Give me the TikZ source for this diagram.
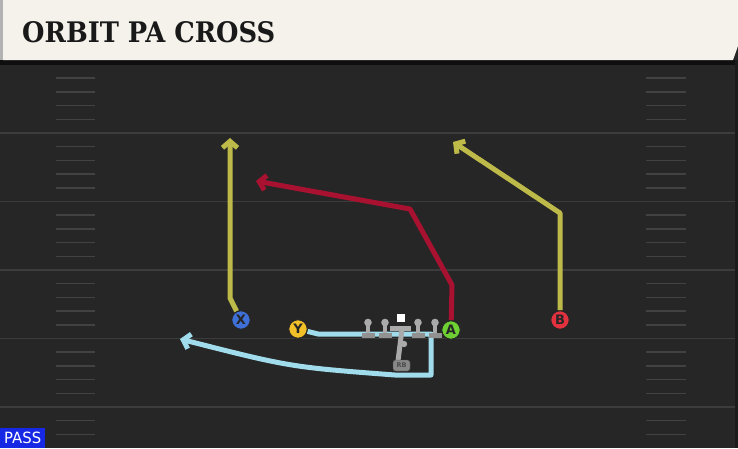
\documentclass[tikz,border=0pt]{standalone}
\usepackage{fontspec}
\setmainfont{DejaVu Sans}
\newfontfamily\titlefont{DejaVu Serif}
\usetikzlibrary{arrows.meta}
\definecolor{fieldbg}{RGB}{38,38,38}
\definecolor{yardln}{RGB}{60,60,60}
\definecolor{hashln}{RGB}{66,66,66}
\definecolor{cream}{RGB}{245,242,235}
\definecolor{olive}{RGB}{190,186,74}
\definecolor{crimson}{RGB}{168,18,48}
\definecolor{lblue}{RGB}{160,220,235}
\definecolor{pgrey}{RGB}{170,170,170}
\definecolor{passblue}{RGB}{22,40,228}
\definecolor{xblue}{RGB}{62,112,216}
\definecolor{yyellow}{RGB}{242,192,40}
\definecolor{agreen}{RGB}{110,208,50}
\definecolor{bred}{RGB}{226,50,64}
\tikzset{
  player/.style={circle, draw=black!85, line width=1pt, minimum size=18.5pt, inner sep=0pt,
    font=\fontsize{13}{13}\selectfont\bfseries, text=black!85},
  route/.style={line width=5pt, line join=round, -{Straight Barb[length=6.5pt,width=15pt]}},
}
\begin{document}
\begin{tikzpicture}[x=1pt,y=-1pt]
\useasboundingbox (0,0) rectangle (738,448);
% field
\fill[fieldbg] (0,0) rectangle (738,448);
\fill[black!60!fieldbg] (0,60) rectangle (738,65);
\fill[black!30!fieldbg] (735,60) rectangle (738,448);
% yard lines
\foreach \yy in {133,201.5,270,338.5,407}
  \draw[yardln, line width=1.8pt] (0,\yy) -- (735,\yy);
% hashes
\foreach \i in {0,...,5}{
  \foreach \k in {1,...,4}{
    \pgfmathsetmacro{\hy}{64.5+68.5*\i+13.7*\k}
    \ifdim\hy pt<446pt
      \draw[hashln, line width=1.5pt] (56,\hy) -- (95,\hy);
      \draw[hashln, line width=1.5pt] (646,\hy) -- (686,\hy);
    \fi
  }
}
% header
\fill[gray!60] (0,0) rectangle (3,60);
\fill[cream] (3,0) -- (738,0) -- (738,46) -- (733,60) -- (3,60) -- cycle;
\node[anchor=west, inner sep=0pt, text=black!90] (title) at (22,32.5)
  {\resizebox{253pt}{21pt}{\titlefont\bfseries ORBIT PA CROSS}};
% PASS label
\node[fill=passblue, anchor=south west, minimum width=45pt, minimum height=20pt, inner sep=0pt,
  text=white] (pass) at (0,448) {\resizebox{37pt}{11.5pt}{PASS}};
% players
\node[player, fill=xblue] (X) at (241,320) {X};
\node[player, fill=yyellow] (Y) at (298,329) {Y};
\node[player, fill=agreen] (A) at (451,330) {A};
\node[player, fill=bred] (B) at (560,320) {B};
% route coordinates
\coordinate (xb) at (230,298);
\coordinate (xe) at (230,138);
\coordinate (a1) at (452,285);
\coordinate (a2) at (410,209);
\coordinate (ae) at (256,181);
\coordinate (b1) at (560,213);
\coordinate (be) at (453,142);
\coordinate (y1) at (318,334);
\coordinate (y2) at (431,334);
\coordinate (y3) at (431,375);
\coordinate (y4) at (395,375);
\coordinate (yc) at (290,367);
\coordinate (ye) at (180,339);
% routes
\draw[route, olive] (X) -- (xb) -- (xe);
\draw[route, olive] (B) -- (b1) -- (be);
\draw[route, crimson] (A) -- (a1) -- (a2) -- (ae);
\draw[route, lblue] (Y) -- (y1) -- (y2) -- (y3) -- (y4) .. controls (yc) .. (ye);
% redraw players on top
\node[player, fill=xblue] at (X) {X};
\node[player, fill=yyellow] at (Y) {Y};
\node[player, fill=agreen] at (A) {A};
\node[player, fill=bred] at (B) {B};
% offensive line
\foreach \lx in {368,385,418,435}{
  \fill[pgrey] (\lx-2.4,323) rectangle (\lx+2.4,335);
  \fill[pgrey] (\lx,322.5) circle (3.8);
  \fill[pgrey!85!black] (\lx-6.5,333) rectangle (\lx+6.5,338);
}
% quarterback / running back
\draw[pgrey, line width=5pt] (402,329) -- (398,361);
\fill[pgrey] (404,344) circle (3.2);
\fill[pgrey] (390,325.5) rectangle (411,330.5);
\fill[white] (397,314) rectangle (405,322);
\node[fill=pgrey!80!black, draw=black!70, rounded corners=2.5pt, minimum width=17pt, minimum height=11pt,
  inner sep=0pt, font=\fontsize{6.5}{6.5}\selectfont\bfseries, text=black!70] (rb) at (401.5,365.5) {RB};
\end{tikzpicture}
\end{document}
